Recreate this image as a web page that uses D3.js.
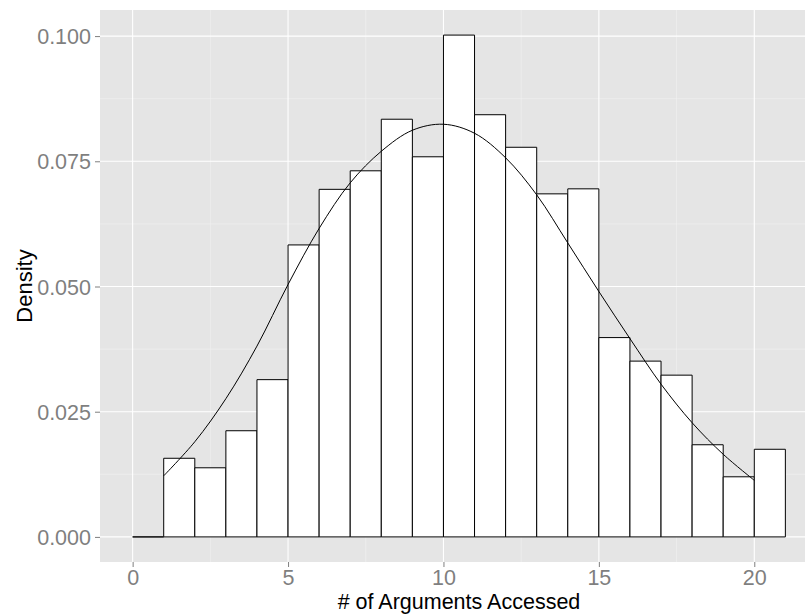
<!DOCTYPE html>
<html>
<head>
<meta charset="utf-8">
<script src="https://cdn.jsdelivr.net/npm/d3@7"></script>
<style>
  html, body { margin: 0; padding: 0; background: #ffffff; }
  svg { display: block; font-family: "Liberation Sans", Arial, sans-serif; }
</style>
</head>
<body>
<svg id="chart" width="805" height="614"></svg>
<script>
// Histogram bins (left edge, width 1) and their densities
const binStarts = [0, 1, 2, 3, 4, 5, 6, 7, 8, 9, 10, 11, 12, 13, 14, 15, 16, 17, 18, 19, 20];
const binDensity = [0, 0.0157, 0.0138, 0.0212, 0.0314, 0.0583, 0.0694, 0.0731, 0.0834, 0.0759,
  0.1002, 0.0843, 0.0778, 0.0685, 0.0695, 0.0398, 0.0351, 0.0323, 0.0184, 0.0120, 0.0175];
const binWidth = 1;

// Smoothed density curve
const curveX = [1, 2, 3, 4, 5, 6, 7, 8, 9, 10, 11, 12, 13, 14, 15, 16, 17, 18, 19, 20];
const curveY = [0.0122, 0.0190, 0.0276, 0.0381, 0.0504, 0.0616, 0.0707, 0.0770, 0.0812, 0.0824,
  0.0806, 0.0757, 0.0683, 0.0587, 0.0490, 0.0396, 0.0305, 0.0228, 0.0165, 0.0113];

const xTicks = [0, 5, 10, 15, 20];
const xMinor = [2.5, 7.5, 12.5, 17.5];
const yTicks = [0, 0.025, 0.05, 0.075, 0.1];
const yMinor = [0.0125, 0.0375, 0.0625, 0.0875];

const xTitle = "# of Arguments Accessed";
const yTitle = "Density";

const svg = d3.select("#chart");
const panel = { left: 100, top: 10, right: 818, bottom: 562 };

const xLo = 0, xHi = 21;
const xPad = (xHi - xLo) * 0.05;
const x = d3.scaleLinear().domain([xLo - xPad, xHi + xPad]).range([panel.left, panel.right]);

const yHi = d3.max(binDensity);
const yPad = yHi * 0.05;
const y = d3.scaleLinear().domain([-yPad, yHi + yPad]).range([panel.bottom, panel.top]);

// panel background
svg.append("rect")
  .attr("x", panel.left).attr("y", panel.top)
  .attr("width", panel.right - panel.left).attr("height", panel.bottom - panel.top)
  .attr("fill", "#e5e5e5");

const grid = svg.append("g");
// minor grid
grid.selectAll(".ym").data(yMinor).join("line")
  .attr("x1", panel.left).attr("x2", panel.right)
  .attr("y1", d => y(d)).attr("y2", d => y(d))
  .attr("stroke", "#f2f2f2").attr("stroke-width", 0.6);
grid.selectAll(".xm").data(xMinor).join("line")
  .attr("y1", panel.top).attr("y2", panel.bottom)
  .attr("x1", d => x(d)).attr("x2", d => x(d))
  .attr("stroke", "#f2f2f2").attr("stroke-width", 0.6);
// major grid
grid.selectAll(".yM").data(yTicks).join("line")
  .attr("x1", panel.left).attr("x2", panel.right)
  .attr("y1", d => y(d)).attr("y2", d => y(d))
  .attr("stroke", "#ffffff").attr("stroke-width", 1.1);
grid.selectAll(".xM").data(xTicks).join("line")
  .attr("y1", panel.top).attr("y2", panel.bottom)
  .attr("x1", d => x(d)).attr("x2", d => x(d))
  .attr("stroke", "#ffffff").attr("stroke-width", 1.1);

// histogram bars as closed outlines (so an empty bin still shows its base)
svg.append("g").selectAll("path").data(binStarts).join("path")
  .attr("d", (d, i) => {
    const x0 = x(d), x1 = x(d + binWidth), y0 = y(0), y1 = y(binDensity[i]);
    return `M${x0},${y0}V${y1}H${x1}V${y0}Z`;
  })
  .attr("fill", "#ffffff")
  .attr("stroke", "#000000")
  .attr("stroke-width", 1)
  .attr("stroke-linejoin", "miter");

// density curve
const line = d3.line()
  .x((d, i) => x(curveX[i]))
  .y(d => y(d))
  .curve(d3.curveCatmullRom.alpha(0.5));
svg.append("path")
  .attr("d", line(curveY))
  .attr("fill", "none")
  .attr("stroke", "#000000")
  .attr("stroke-width", 1);

// axes
const axisColor = "#7f7f7f";
const xAxis = svg.append("g")
  .attr("transform", `translate(0,${panel.bottom})`)
  .call(d3.axisBottom(x).tickValues(xTicks).tickFormat(d3.format("d")).tickSize(5).tickPadding(3));
const yAxis = svg.append("g")
  .attr("transform", `translate(${panel.left},0)`)
  .call(d3.axisLeft(y).tickValues(yTicks).tickFormat(d3.format(".3f")).tickSize(5).tickPadding(4));

[xAxis, yAxis].forEach(a => {
  a.select(".domain").remove();
  a.selectAll(".tick line").attr("stroke", axisColor).attr("stroke-width", 1);
  a.selectAll(".tick text")
    .attr("fill", axisColor)
    .style("font-size", "21.5px")
    .style("font-family", "'Liberation Sans', Arial, sans-serif");
});
yAxis.selectAll(".tick text").attr("dy", "0.35em");

// axis titles
svg.append("text")
  .attr("x", (panel.left + panel.right) / 2)
  .attr("y", 609)
  .attr("text-anchor", "middle")
  .attr("fill", "#000000")
  .style("font-size", "21.5px")
  .text(xTitle);

svg.append("text")
  .attr("transform", `translate(32,${(panel.top + panel.bottom) / 2}) rotate(-90)`)
  .attr("text-anchor", "middle")
  .attr("fill", "#000000")
  .style("font-size", "22px")
  .text(yTitle);
</script>
</body>
</html>
